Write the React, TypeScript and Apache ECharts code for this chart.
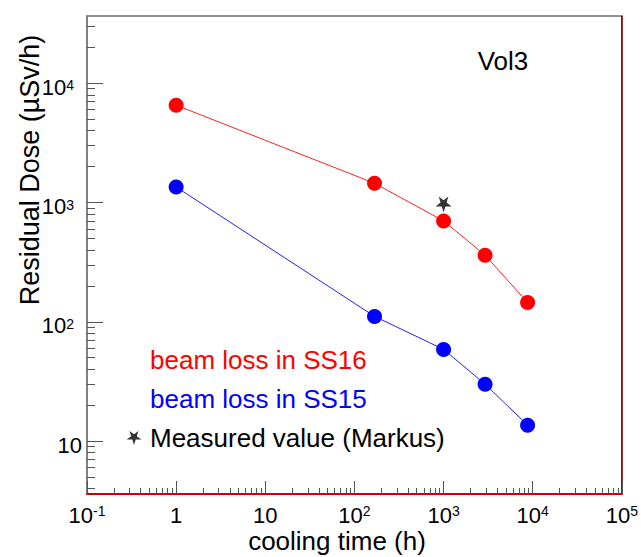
import React, { useEffect, useRef } from "react";
import * as echarts from "echarts";

// ---- data ----
const coolingTimes = [1, 168, 1000, 2920, 8760];
const doseSS16 = [6540, 1450, 700, 362, 145];
const doseSS15 = [1350, 111, 58.7, 30, 13.6];
const measuredTime = [1000];
const measuredDose = [960];
const seriesNames = ["beam loss in SS16", "beam loss in SS15", "Measured value (Markus)"];
const xDecades = [-1, 0, 1, 2, 3, 4, 5];
const yDecades = [1, 2, 3, 4];
const X_MIN = 0.1;
const X_MAX = 1e5;
const Y_MIN = 3.6;
const Y_MAX = 36600;

const FONT = "'Liberation Sans', Arial, Helvetica, sans-serif";
const STAR =
  "path://M50,100 L61,65 L98,65 L68,43 L79,9 L50,30 L21,9 L32,43 L2,65 L39,65 Z";

const lg = (v: number) => Math.log10(v);
const toXY = (xs: number[], ys: number[]) => xs.map((x, i) => [lg(x), lg(ys[i])]);

function minorTicks(lo: number, hi: number) {
  const out: number[] = [];
  for (let d = Math.floor(lo); d <= Math.ceil(hi); d++) {
    for (let k = 2; k <= 9; k++) {
      const v = d + Math.log10(k);
      if (v > lo && v < hi) out.push(v);
    }
  }
  return out;
}

const powLabel = (v: number) => {
  const n = Math.round(v);
  if (n === 0) return "{b|1}";
  if (n === 1) return "{b|10}";
  return `{b|10}{s|${n}}`;
};

export default function App() {
  const ref = useRef<HTMLDivElement>(null);
  useEffect(() => {
    if (!ref.current) return;
    const chart = echarts.init(ref.current, undefined, { renderer: "svg" });
    const xLo = lg(X_MIN), xHi = lg(X_MAX), yLo = lg(Y_MIN), yHi = lg(Y_MAX);
    const tickStyle = { color: "#555", width: 1 };
    const xRich = {
      b: { fontSize: 22, lineHeight: 22, fontFamily: FONT, color: "#000" },
      s: { fontSize: 14, lineHeight: 14, fontFamily: FONT, color: "#000", verticalAlign: "top" },
    };
    const yRich = {
      b: { fontSize: 22, lineHeight: 22, fontFamily: FONT, color: "#000", padding: [8, 0, 0, 0] },
      s: {
        fontSize: 14, lineHeight: 14, fontFamily: FONT, color: "#000",
        verticalAlign: "top", padding: [6, 8, 0, 0],
      },
    };
    const txt = (text: string, size: number) => ({
      text, fontSize: size, fontFamily: FONT, fill: "#000",
      align: "center", verticalAlign: "middle", textAlign: "center", textVerticalAlign: "middle",
    });
    chart.setOption({
      animation: false,
      backgroundColor: "#fff",
      grid: {
        left: 87, right: 18, top: 16, bottom: 63,
        show: true, borderColor: "#222", borderWidth: 1, backgroundColor: "transparent",
      },
      xAxis: [
        {
          type: "value", min: xLo, max: xHi, position: "bottom",
          axisLine: { show: true, onZero: false, lineStyle: { color: "#cc0000", width: 2 } },
          axisTick: { show: true, inside: true, length: 13, customValues: xDecades, lineStyle: tickStyle },
          axisLabel: { customValues: xDecades, formatter: powLabel, margin: 10, rich: xRich, verticalAlign: "top" },
          splitLine: { show: false },
        },
        {
          type: "value", min: xLo, max: xHi, position: "bottom",
          axisLine: { show: false, onZero: false },
          axisTick: { show: true, inside: true, length: 6, customValues: minorTicks(xLo, xHi), lineStyle: tickStyle },
          axisLabel: { show: false },
          splitLine: { show: false },
        },
      ],
      yAxis: [
        {
          type: "value", min: yLo, max: yHi, position: "left",
          axisLine: { show: true, onZero: false, lineStyle: { color: "#808080", width: 2 } },
          axisTick: { show: true, inside: true, length: 16, customValues: yDecades, lineStyle: tickStyle },
          axisLabel: { customValues: yDecades, formatter: powLabel, margin: 5, rich: yRich },
          splitLine: { show: false },
        },
        {
          type: "value", min: yLo, max: yHi, position: "left",
          axisLine: { show: false, onZero: false },
          axisTick: { show: true, inside: true, length: 8, customValues: minorTicks(yLo, yHi), lineStyle: tickStyle },
          axisLabel: { show: false },
          splitLine: { show: false },
        },
        {
          type: "value", min: yLo, max: yHi, position: "right",
          axisLine: { show: true, onZero: false, lineStyle: { color: "#800000", width: 1.5 } },
          axisTick: { show: false },
          axisLabel: { show: false },
          splitLine: { show: false },
        },
      ],
      legend: {
        orient: "vertical", left: 118, top: 341,
        itemWidth: 22, itemHeight: 14, itemGap: 11,
        selectedMode: false,
        textStyle: { fontSize: 26, lineHeight: 28, fontFamily: FONT },
        data: [
          { name: seriesNames[0], icon: "rect", itemStyle: { opacity: 0 }, lineStyle: { opacity: 0 }, textStyle: { color: "#ff0000" } },
          { name: seriesNames[1], icon: "rect", itemStyle: { opacity: 0 }, lineStyle: { opacity: 0 }, textStyle: { color: "#0000ff" } },
          { name: seriesNames[2], icon: STAR, itemStyle: { color: "#000" }, textStyle: { color: "#000" } },
        ],
      },
      series: [
        {
          name: seriesNames[0], type: "line", data: toXY(coolingTimes, doseSS16),
          symbol: "circle", symbolSize: 15,
          itemStyle: { color: "#ff0000" }, lineStyle: { color: "#ff2020", width: 1 }, z: 3,
        },
        {
          name: seriesNames[1], type: "line", data: toXY(coolingTimes, doseSS15),
          symbol: "circle", symbolSize: 15,
          itemStyle: { color: "#0000ff" }, lineStyle: { color: "#2020ff", width: 1 }, z: 3,
        },
        {
          name: seriesNames[2], type: "scatter", data: toXY(measuredTime, measuredDose),
          symbol: STAR, symbolSize: 16, itemStyle: { color: "#000" }, z: 5,
        },
      ],
      graphic: [
        { type: "text", x: 503, y: 61, style: txt("Vol3", 26) },
        { type: "text", x: 30, y: 170, rotation: Math.PI / 2, style: txt("Residual Dose (µSv/h)", 27) },
        { type: "text", x: 337, y: 541, style: txt("cooling time (h)", 26) },
      ],
    });
    return () => chart.dispose();
  }, []);
  return (
    <div
      ref={ref}
      style={{ position: "fixed", left: 0, top: 0, width: 641, height: 557 }}
    />
  );
}
